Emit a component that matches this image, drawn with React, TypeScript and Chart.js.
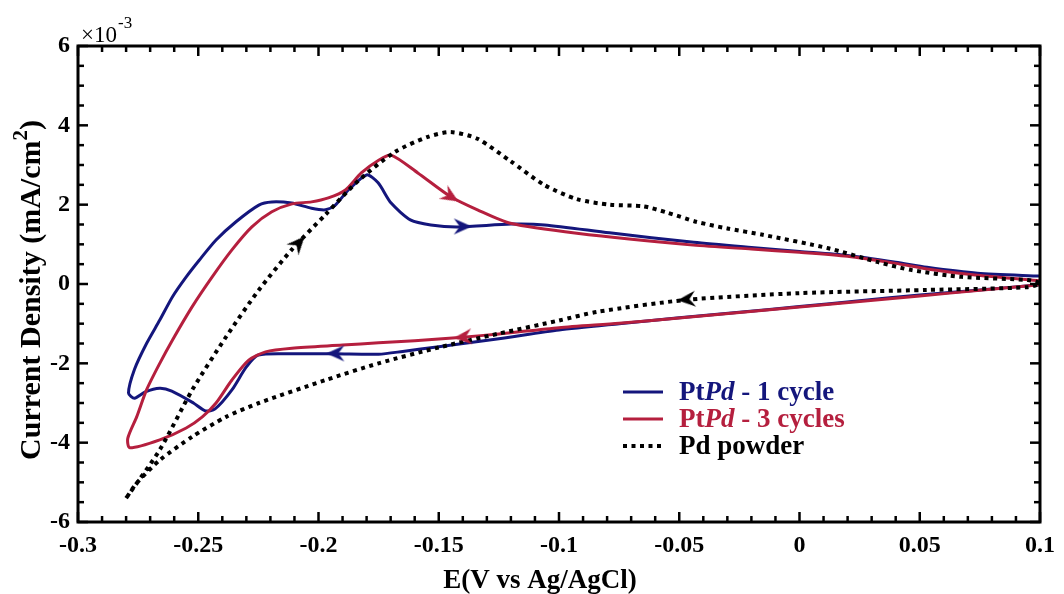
import React, { useEffect, useRef } from "react";
import { Chart, registerables } from "chart.js";

Chart.register(...registerables);

// ---- Data (current density in units of 1e-3 mA/cm^2) ----
const blueE = [0.1, 0.075, 0.05, 0.025, 0, -0.025, -0.05, -0.075, -0.1, -0.125, -0.15, -0.165, -0.175, -0.193, -0.21, -0.225, -0.23, -0.236, -0.243, -0.247, -0.252, -0.261, -0.266, -0.272, -0.2765, -0.279, -0.2765, -0.2715, -0.266, -0.2607, -0.255, -0.2496, -0.2426, -0.2343, -0.2248, -0.2194, -0.2112, -0.2029, -0.1971, -0.193, -0.1876, -0.18, -0.1752, -0.1698, -0.1616, -0.1533, -0.1421, -0.12, -0.106, -0.079, -0.044, -0.02, 0, 0.02, 0.04, 0.053, 0.074, 0.1];
const blueJ = [-0.02, -0.15, -0.28, -0.42, -0.57, -0.71, -0.85, -1.0, -1.16, -1.38, -1.58, -1.7, -1.77, -1.76, -1.76, -1.79, -2.09, -2.67, -3.15, -3.2, -3.0, -2.7, -2.63, -2.72, -2.88, -2.75, -2.15, -1.5, -0.91, -0.32, 0.18, 0.6, 1.11, 1.57, 1.99, 2.07, 2.04, 1.91, 1.87, 1.99, 2.37, 2.75, 2.55, 2.04, 1.61, 1.49, 1.44, 1.51, 1.49, 1.29, 1.05, 0.92, 0.82, 0.72, 0.55, 0.42, 0.27, 0.2];

const redE = [0.1, 0.075, 0.05, 0.025, 0, -0.025, -0.05, -0.075, -0.1, -0.125, -0.14, -0.16, -0.175, -0.19, -0.211, -0.222, -0.229, -0.236, -0.2426, -0.2483, -0.255, -0.266, -0.2785, -0.2793, -0.2756, -0.2715, -0.266, -0.2607, -0.2525, -0.2442, -0.236, -0.2277, -0.2194, -0.211, -0.2029, -0.1959, -0.1888, -0.1822, -0.175, -0.1698, -0.1587, -0.145, -0.1339, -0.1202, -0.0926, -0.0442, -0.02, 0, 0.02, 0.04, 0.053, 0.074, 0.1];
const redJ = [-0.02, -0.16, -0.3, -0.44, -0.58, -0.72, -0.86, -0.99, -1.1, -1.26, -1.34, -1.43, -1.48, -1.54, -1.62, -1.71, -1.92, -2.42, -3.0, -3.35, -3.63, -3.93, -4.13, -3.89, -3.35, -2.67, -2.0, -1.41, -0.57, 0.18, 0.86, 1.44, 1.82, 2.02, 2.07, 2.17, 2.37, 2.8, 3.12, 3.25, 2.8, 2.2, 1.87, 1.53, 1.28, 0.98, 0.88, 0.8, 0.7, 0.52, 0.38, 0.22, 0.08];

const pdE = [-0.28, -0.266, -0.2525, -0.2384, -0.2248, -0.2112, -0.1971, -0.1835, -0.1682, -0.1545, -0.145, -0.1339, -0.1202, -0.1062, -0.0926, -0.079, -0.065, -0.055, -0.043, -0.03, -0.0153, 0.012, 0.0327, 0.0467, 0.0674, 0.095, 0.1, 0.095, 0.053, 0, -0.047, -0.084, -0.1, -0.125, -0.15, -0.175, -0.197, -0.2248, -0.2384, -0.2525, -0.266, -0.2756, -0.28];
const pdJ = [-5.4, -4.18, -2.67, -1.33, -0.15, 0.86, 1.75, 2.6, 3.33, 3.71, 3.83, 3.66, 3.1, 2.5, 2.14, 2.0, 1.96, 1.8, 1.57, 1.4, 1.24, 0.9, 0.55, 0.35, 0.18, 0.1, 0.02, -0.08, -0.15, -0.23, -0.4, -0.7, -0.92, -1.25, -1.6, -2.0, -2.42, -3.0, -3.35, -3.85, -4.44, -5.02, -5.4];

// Direction arrows on the curves (position + rotation in degrees)
const blueArrowE = [-0.14, -0.193];
const blueArrowJ = [1.45, -1.75];
const blueArrowRot = [90, 270];
const redArrowE = [-0.145, -0.14];
const redArrowJ = [2.2, -1.34];
const redArrowRot = [122, 265];
const pdArrowE = [-0.2083, -0.047];
const pdArrowJ = [1.03, -0.39];
const pdArrowRot = [42, 265];

const xTicks = [-0.3, -0.25, -0.2, -0.15, -0.1, -0.05, 0, 0.05, 0.1];
const xTickLabels = ["-0.3", "-0.25", "-0.2", "-0.15", "-0.1", "-0.05", "0", "0.05", "0.1"];
const yTicks = [-6, -4, -2, 0, 2, 4, 6];
const yTickLabels = ["-6", "-4", "-2", "0", "2", "4", "6"];

const seriesNames = ["1 cycle", "3 cycles", "Pd powder"];

const BLUE = "#14167c";
const RED = "#b51f3e";
const BLACK = "#000000";
const SERIF = "'Liberation Serif', 'Times New Roman', serif";

function pts(xs: number[], ys: number[]) {
  return xs.map((x, i) => ({ x, y: ys[i] }));
}

function makeArrow(color: string) {
  const c = document.createElement("canvas");
  c.width = 22;
  c.height = 22;
  const g = c.getContext("2d")!;
  g.fillStyle = color;
  g.beginPath();
  g.moveTo(11, 2);
  g.lineTo(19, 20);
  g.lineTo(11, 14);
  g.lineTo(3, 20);
  g.closePath();
  g.fill();
  return c;
}

const framePlugin = {
  id: "frameAndText",
  afterDatasetsDraw(chart: any) {
    const { ctx, chartArea: a, scales } = chart;
    const xs = scales.x;
    const ys = scales.y;
    ctx.save();
    ctx.strokeStyle = "#000";
    ctx.lineCap = "butt";
    ctx.lineWidth = 2.5;
    const seg = (x1: number, y1: number, x2: number, y2: number) => {
      ctx.beginPath();
      ctx.moveTo(x1, y1);
      ctx.lineTo(x2, y2);
      ctx.stroke();
    };
    for (let i = 0; i <= 40; i++) {
      const v = -0.3 + i * 0.01;
      const px = xs.getPixelForValue(v);
      const len = i % 5 === 0 ? 10 : 6;
      seg(px, a.bottom, px, a.bottom - len);
      seg(px, a.top, px, a.top + len);
    }
    for (let i = 0; i <= 24; i++) {
      const v = -6 + i * 0.5;
      const py = ys.getPixelForValue(v);
      const len = i % 4 === 0 ? 10 : 6;
      seg(a.left, py, a.left + len, py);
      seg(a.right, py, a.right - len, py);
    }
    ctx.lineWidth = 3;
    ctx.strokeRect(a.left, a.top, a.right - a.left, a.bottom - a.top);
    ctx.restore();
  },
  afterDraw(chart: any) {
    const { ctx } = chart;
    ctx.save();
    ctx.fillStyle = "#000";
    ctx.textBaseline = "alphabetic";
    // x axis title
    ctx.font = `bold 27px ${SERIF}`;
    ctx.textAlign = "center";
    ctx.fillText("E(V vs Ag/AgCl)", 540, 588);
    // y axis title
    ctx.save();
    ctx.translate(40, 290);
    ctx.rotate(-Math.PI / 2);
    const main = "Current Density (mA/cm";
    const sup = "2";
    const close = ")";
    ctx.font = `bold 30px ${SERIF}`;
    const wMain = ctx.measureText(main).width;
    const wClose = ctx.measureText(close).width;
    ctx.font = `bold 21px ${SERIF}`;
    const wSup = ctx.measureText(sup).width;
    const total = wMain + wSup + wClose;
    ctx.textAlign = "left";
    let sx = -total / 2;
    ctx.font = `bold 30px ${SERIF}`;
    ctx.fillText(main, sx, 0);
    sx += wMain;
    ctx.font = `bold 21px ${SERIF}`;
    ctx.fillText(sup, sx, -13);
    sx += wSup;
    ctx.font = `bold 30px ${SERIF}`;
    ctx.fillText(close, sx, 0);
    ctx.restore();
    // exponent
    ctx.textAlign = "left";
    ctx.font = `23px ${SERIF}`;
    ctx.fillText("\u00d710", 81, 42);
    const w10 = ctx.measureText("\u00d710").width;
    ctx.font = `17px ${SERIF}`;
    ctx.fillText("-3", 81 + w10 + 1, 28);

    // legend
    const rows = [
      { color: BLUE, dash: [] as number[], y: 392, parts: [["Pt", false], ["Pd", true], [" - " + seriesNames[0], false]] },
      { color: RED, dash: [] as number[], y: 419, parts: [["Pt", false], ["Pd", true], [" - " + seriesNames[1], false]] },
      { color: BLACK, dash: [4, 4.5], y: 446, parts: [[seriesNames[2], false]] },
    ];
    for (const r of rows) {
      ctx.save();
      ctx.strokeStyle = r.color;
      ctx.lineWidth = r.dash.length ? 4 : 3;
      ctx.setLineDash(r.dash);
      ctx.beginPath();
      ctx.moveTo(623, r.y);
      ctx.lineTo(663, r.y);
      ctx.stroke();
      ctx.restore();
      let tx = 679;
      ctx.fillStyle = r.color;
      for (const [txt, it] of r.parts as [string, boolean][]) {
        ctx.font = `${it ? "italic " : ""}bold 27px ${SERIF}`;
        ctx.fillText(txt, tx, r.y + 8);
        tx += ctx.measureText(txt).width;
      }
    }
    ctx.restore();
  },
};

export default function App() {
  const ref = useRef<HTMLCanvasElement | null>(null);
  useEffect(() => {
    if (!ref.current) return;
    const arrowDs = (e: number[], j: number[], rot: number[], color: string) => ({
      data: pts(e, j),
      showLine: false,
      pointStyle: makeArrow(color),
      pointRadius: 11,
      pointRotation: rot,
      order: 0,
    });
    const chart = new Chart(ref.current, {
      type: "line",
      data: {
        datasets: [
          arrowDs(pdArrowE, pdArrowJ, pdArrowRot, BLACK),
          arrowDs(redArrowE, redArrowJ, redArrowRot, RED),
          arrowDs(blueArrowE, blueArrowJ, blueArrowRot, BLUE),
          {
            label: seriesNames[2],
            data: pts(pdE, pdJ),
            borderColor: BLACK,
            borderWidth: 4,
            borderDash: [4, 4.5],
            borderCapStyle: "butt",
            pointRadius: 0,
            tension: 0.25,
            fill: false,
            order: 1,
          },
          {
            label: seriesNames[1],
            data: pts(redE, redJ),
            borderColor: RED,
            borderWidth: 3,
            pointRadius: 0,
            tension: 0.25,
            fill: false,
            order: 2,
          },
          {
            label: seriesNames[0],
            data: pts(blueE, blueJ),
            borderColor: BLUE,
            borderWidth: 3,
            pointRadius: 0,
            tension: 0.25,
            fill: false,
            order: 3,
          },
        ] as any,
      },
      options: {
        animation: false,
        responsive: true,
        maintainAspectRatio: false,
        layout: { padding: { top: 46, right: 18, left: 0, bottom: 0 } },
        plugins: { legend: { display: false }, tooltip: { enabled: false } },
        scales: {
          x: {
            type: "linear",
            min: -0.3,
            max: 0.1,
            grid: { display: false, drawTicks: false },
            border: { display: false },
            afterBuildTicks: (s: any) => {
              s.ticks = xTicks.map((v) => ({ value: v }));
            },
            afterFit: (s: any) => {
              s.height = 72;
            },
            ticks: {
              autoSkip: false,
              maxRotation: 0,
              padding: 9,
              color: "#000",
              font: { family: SERIF, size: 24, weight: "bold" },
              callback: (_v: any, i: number) => xTickLabels[i],
            },
          },
          y: {
            type: "linear",
            min: -6,
            max: 6,
            grid: { display: false, drawTicks: false },
            border: { display: false },
            afterBuildTicks: (s: any) => {
              s.ticks = yTicks.map((v) => ({ value: v }));
            },
            afterFit: (s: any) => {
              s.width = 78;
            },
            ticks: {
              autoSkip: false,
              padding: 8,
              color: "#000",
              font: { family: SERIF, size: 24, weight: "bold" },
              callback: (_v: any, i: number) => yTickLabels[i],
            },
          },
        },
      } as any,
      plugins: [framePlugin],
    });
    return () => chart.destroy();
  }, []);
  return (
    <div style={{ position: "fixed", left: 0, top: 0, width: 1064, height: 594, background: "#fff" }}>
      <canvas ref={ref} />
    </div>
  );
}
